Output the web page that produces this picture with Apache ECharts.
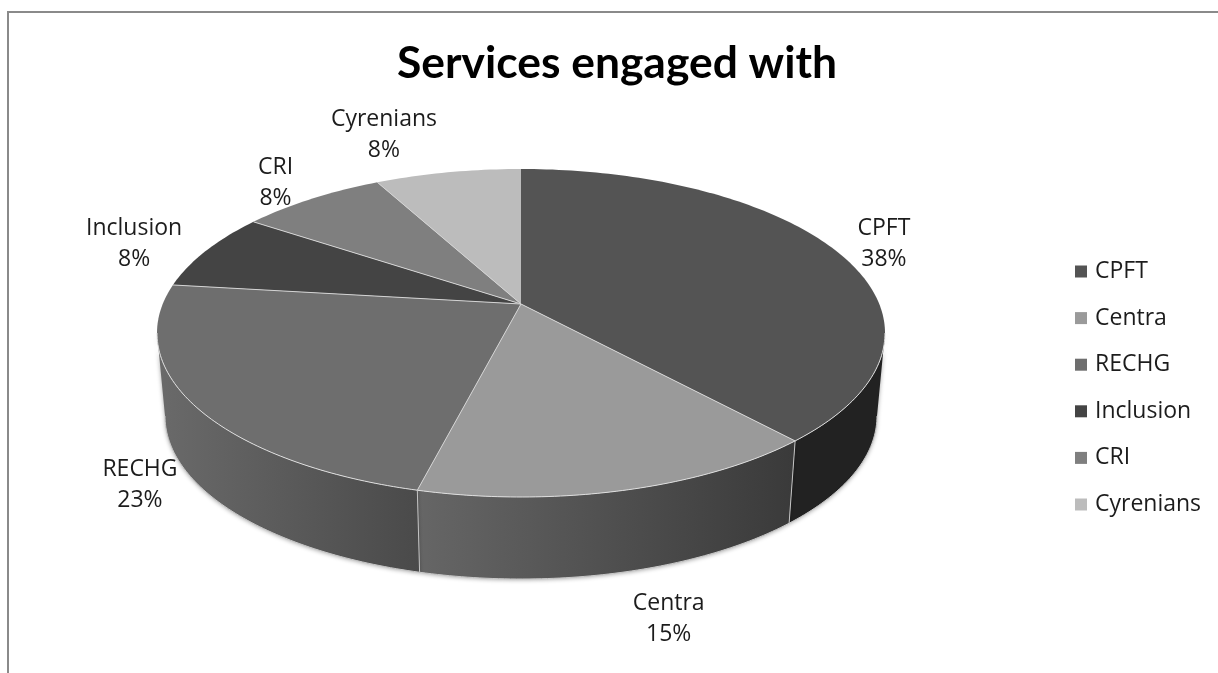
<!DOCTYPE html>
<html><head><meta charset="utf-8">
<style>html,body{margin:0;padding:0;background:#fff}#c{width:1218px;height:673px}</style>
<script src="https://cdn.jsdelivr.net/npm/echarts@6/dist/echarts.min.js"></script>
</head><body><div id="c"></div>
<script>
const titleText = 'Services engaged with';
const categories = ['CPFT','Centra','RECHG','Inclusion','CRI','Cyrenians'];
const values = [5,2,3,1,1,1];
const sliceColors = ['#545454','#9a9a9a','#6e6e6e','#444444','#7f7f7f','#bcbcbc'];
const wallStops = [['#222222','#222222'],['#666666','#3a3a3a'],['#6a6a6a','#4a4a4a'],null,null,null];
const labelNudge = [[48,-7],[44,129],[-53,81],[-72,-7],[-36,-16],[-64,-37]];

const top3d = {cx:521, cy:333, rx:364, ry:164};
const base3d = {cx:521, cy:416, rx:356, ry:163};
const apex = [521,304];
const persp = 0.09;
const FONT = '"Open Sans", Lato, sans-serif';
const TITLE_FONT = 'Lato, "Open Sans", sans-serif';
const total = values.reduce((a,b)=>a+b,0);
const rad = d=>d*Math.PI/180;

// clockwise share of the pie -> angle on the foreshortened rim
function rimAngle(frac){
  const t = rad(90-360*frac), c=Math.cos(t), s=Math.sin(t);
  let p = (Math.atan2(s+persp,c)-Math.atan2(-persp*c,1+persp*s))*180/Math.PI;
  const target = 90-360*frac;
  while(p>target+60) p-=360;
  while(p<target-60) p+=360;
  return p;
}
const rimPt=(e,deg)=>[e.cx+e.rx*Math.cos(rad(deg)), e.cy-e.ry*Math.sin(rad(deg))];
function arc(e,from,to){
  const pts=[], n=Math.max(2,Math.ceil(Math.abs(from-to)));
  for(let i=0;i<=n;i++) pts.push(rimPt(e,from+(to-from)*i/n));
  return pts;
}
function sliceRange(i){
  let before=0; for(let j=0;j<i;j++) before+=values[j];
  return [rimAngle(before/total), rimAngle((before+values[i])/total)];
}
const visibleFront=(a,b)=>{const f=Math.min(a,0),t=Math.max(b,-180);return f>t?[f,t]:null;};

function renderWall(params,api){
  const i=params.dataIndex; api.value(0);
  const [a,b]=sliceRange(i), r=visibleFront(a,b);
  if(!r||!wallStops[i]) return {type:'group',children:[]};
  const upper=arc(top3d,r[0],r[1]), lower=arc(base3d,r[0],r[1]);
  const left=wallStops[i][0], right=wallStops[i][1];
  return {type:'group',children:[
    {type:'polygon',shape:{points:upper.concat(lower.slice().reverse())},z2:1,
     style:{fill:{type:'linear',x:0,y:0,x2:1,y2:0,colorStops:[{offset:0,color:left},{offset:1,color:right}]},
            shadowBlur:4,shadowColor:'rgba(0,0,0,0.35)',shadowOffsetY:1}},
    {type:'polyline',shape:{points:lower},z2:2,style:{fill:null,stroke:'#c8c8c8',lineWidth:1}},
    {type:'line',shape:{x1:upper[0][0],y1:upper[0][1],x2:lower[0][0],y2:lower[0][1]},z2:3,
     style:{stroke:r[0]===0?'rgba(0,0,0,0)':'#c4c4c4',lineWidth:1}}
  ]};
}
function renderSlice(idx){
  return function(params,api){
    const v=api.value(0);
    const [a,b]=sliceRange(idx);
    const rim=arc(top3d,a,b);
    const mid=rimPt(top3d,rimAngle((values.slice(0,idx).reduce((x,y)=>x+y,0)+v/2)/total));
    const kids=[
      {type:'polygon',shape:{points:[apex].concat(rim)},style:{fill:api.visual('color')}},
      {type:'line',shape:{x1:apex[0],y1:apex[1],x2:rim[0][0],y2:rim[0][1]},z2:5,
       style:{stroke:idx===0?'rgba(0,0,0,0)':'#d4d4d4',lineWidth:1}},
      {type:'text',z2:10,style:{x:mid[0]+labelNudge[idx][0],y:mid[1]+labelNudge[idx][1],
        text:categories[idx]+'\n'+Math.round(v/total*100)+'%',
        align:'center',verticalAlign:'middle',font:'23px '+FONT,lineHeight:31,fill:'#1c1c1c'}}
    ];
    const r=visibleFront(a,b);
    if(r) kids.push({type:'polyline',z2:6,shape:{points:arc(top3d,r[0],r[1])},style:{fill:null,stroke:'#dedede',lineWidth:1}});
    return {type:'group',children:kids};
  };
}
const series=[{
  type:'custom',name:'wall',coordinateSystem:'none',z:1,silent:true,
  data:values.map(v=>[v]),renderItem:renderWall,clip:false
}].concat(categories.map((name,i)=>({
  type:'custom',name,coordinateSystem:'none',z:2+i,silent:true,
  itemStyle:{color:sliceColors[i]},
  data:[[values[i]]],renderItem:renderSlice(i),clip:false
})));

const chart=echarts.init(document.getElementById('c'),null,{renderer:'canvas'});
chart.setOption({
  animation:false,backgroundColor:'#ffffff',
  title:{text:titleText,left:612,top:37,textAlign:'center',
    textStyle:{fontFamily:TITLE_FONT,fontSize:44.4,fontWeight:'bold',color:'#000'}},
  legend:{data:categories,orient:'vertical',left:1070,top:255,icon:'rect',
    itemWidth:12,itemHeight:12,itemGap:23.6,selectedMode:false,
    textStyle:{fontFamily:FONT,fontSize:23,color:'#1c1c1c',padding:[0,0,0,3]}},
  graphic:[
    {type:'rect',shape:{x:7,y:11,width:1211,height:2},style:{fill:'#8a8a8a'},silent:true},
    {type:'rect',shape:{x:7,y:11,width:2,height:662},style:{fill:'#8a8a8a'},silent:true}
  ],
  series
});
</script></body></html>
